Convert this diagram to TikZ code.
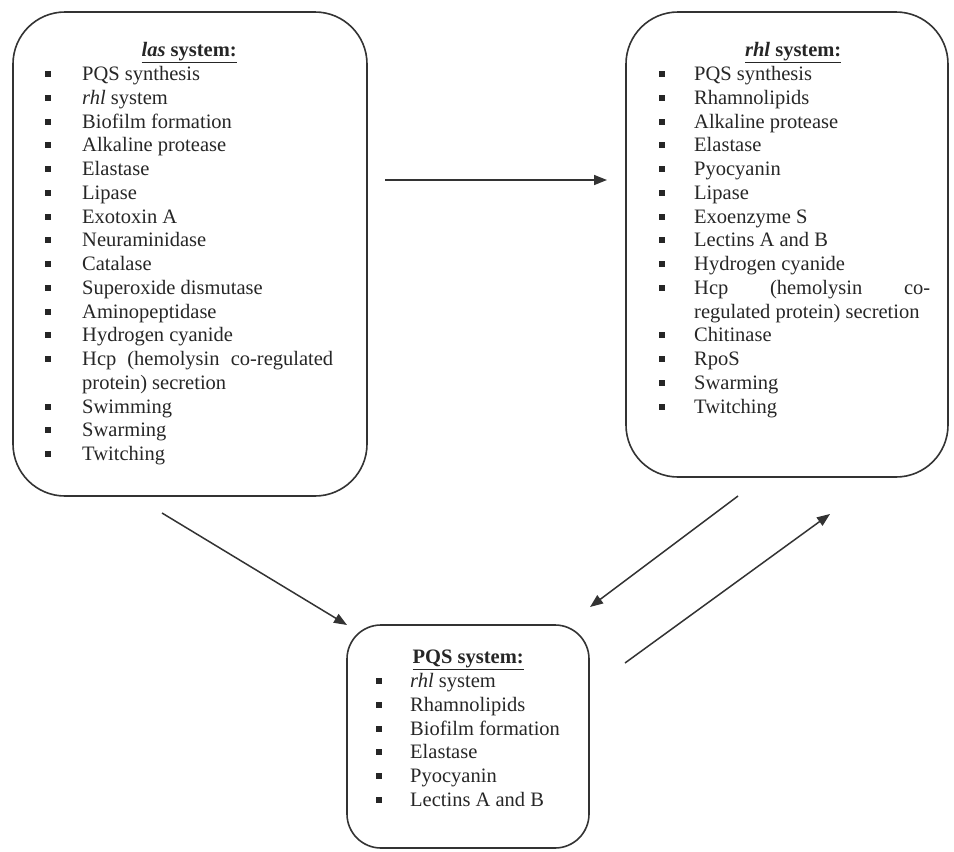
\documentclass[tikz,border=0pt]{standalone}
\usepackage{fontspec}
\setmainfont{Liberation Serif}
\usetikzlibrary{arrows.meta}
\hyphenpenalty=10000
\newlength{\qsind}
\newlength{\qsbul}
\newcommand{\qstitle}[1]{{\centering\noindent\strut\underline{\textbf{#1}}\par}}
\newcommand{\qsitem}[1]{\par\hangindent=\qsind\hangafter=1\noindent\makebox[\qsind][l]{\hspace*{\qsbul}\rule[3.5pt]{6pt}{6pt}}#1}
\begin{document}
\begin{tikzpicture}[x=1pt, y=-1pt,
  sysbox/.style={draw=black!80, line width=1.6pt, rounded corners=52pt},
  listtxt/.style={anchor=north west, inner sep=0pt, align=justify, font=\fontsize{20.5}{23.75}\selectfont, text=black!85},
  arr/.style={-{Triangle[length=13pt,width=10pt]}, line width=1.5pt, draw=black!80}]
\useasboundingbox (0,0) rectangle (954,852);
% the three boxes
\node[sysbox, minimum width=354pt, minimum height=484pt] (las) at (190,254) {};
\node[sysbox, minimum width=322pt, minimum height=465pt] (rhl) at (787,244.5) {};
\node[sysbox, rounded corners=34pt, minimum width=242pt, minimum height=223pt] (pqs) at (468,736.5) {};
% lists
\node[listtxt, text width=288pt] (lastxt) at (45,40) {\setlength{\qsind}{37pt}\setlength{\qsbul}{0pt}%
\qstitle{\textit{las} system:}%
\qsitem{PQS synthesis}\qsitem{\textit{rhl} system}\qsitem{Biofilm formation}\qsitem{Alkaline protease}%
\qsitem{Elastase}\qsitem{Lipase}\qsitem{Exotoxin A}\qsitem{Neuraminidase}\qsitem{Catalase}%
\qsitem{Superoxide dismutase}\qsitem{Aminopeptidase}\qsitem{Hydrogen cyanide}%
\qsitem{Hcp (hemolysin co-regulated\linebreak protein) secretion}%
\qsitem{Swimming}\qsitem{Swarming}\qsitem{Twitching}};
\node[listtxt, text width=274pt] (rhltxt) at (656,40) {\setlength{\qsind}{38pt}\setlength{\qsbul}{2.5pt}%
\qstitle{\textit{rhl} system:}%
\qsitem{PQS synthesis}\qsitem{Rhamnolipids}\qsitem{Alkaline protease}\qsitem{Elastase}%
\qsitem{Pyocyanin}\qsitem{Lipase}\qsitem{Exoenzyme S}\qsitem{Lectins A and B}\qsitem{Hydrogen cyanide}%
\qsitem{Hcp (hemolysin co-\linebreak regulated protein) secretion}%
\qsitem{Chitinase}\qsitem{RpoS}\qsitem{Swarming}\qsitem{Twitching}};
\node[listtxt, text width=204pt] (pqstxt) at (366,647) {\setlength{\qsind}{44pt}\setlength{\qsbul}{9.5pt}%
\qstitle{PQS system:}%
\qsitem{\textit{rhl} system}\qsitem{Rhamnolipids}\qsitem{Biofilm formation}\qsitem{Elastase}%
\qsitem{Pyocyanin}\qsitem{Lectins A and B}};
% arrow ends
\coordinate (h1) at (385,180); \coordinate (h2) at (607,180);
\coordinate (d1) at (162,513); \coordinate (d2) at (347,625);
\coordinate (r1) at (738,496); \coordinate (r2) at (590,607);
\coordinate (u1) at (625,663); \coordinate (u2) at (830,514);
\draw[arr] (h1) -- (h2);
\draw[arr] (d1) -- (d2);
\draw[arr] (r1) -- (r2);
\draw[arr] (u1) -- (u2);
\end{tikzpicture}
\end{document}
